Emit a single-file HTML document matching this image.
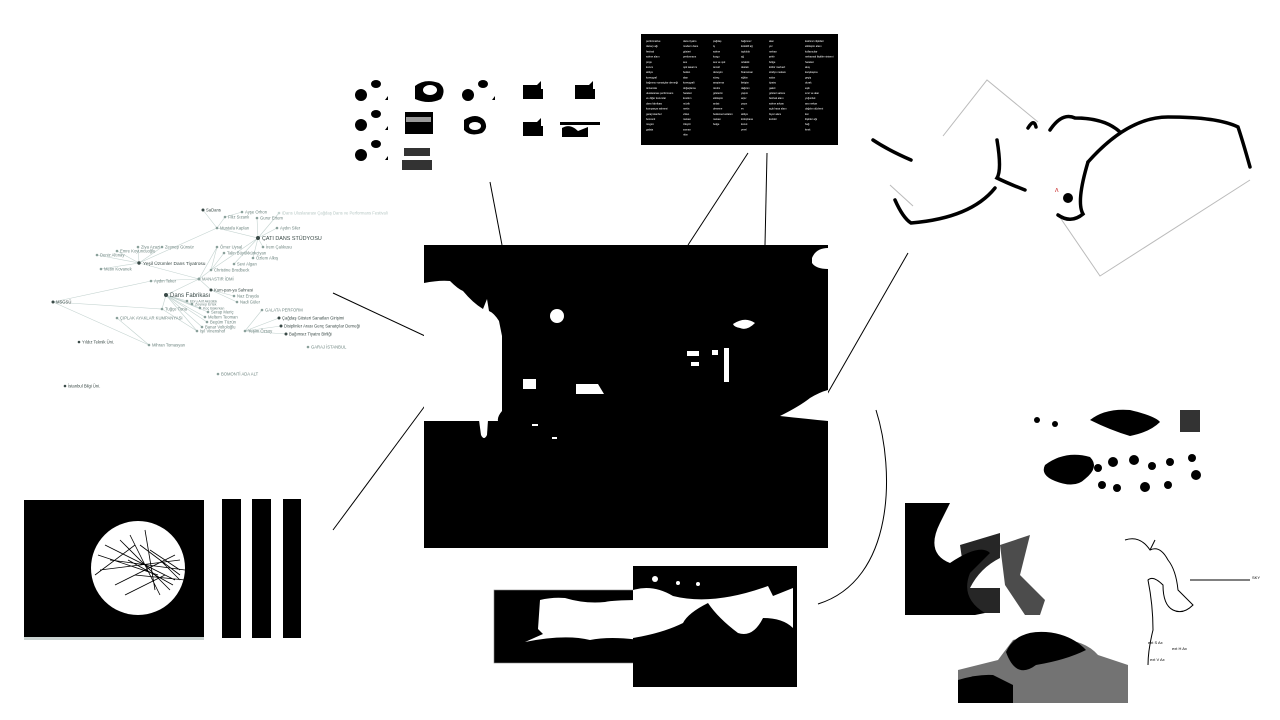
<!DOCTYPE html>
<html><head><meta charset="utf-8"><style>
html,body{margin:0;padding:0;background:#fff;width:1280px;height:720px;overflow:hidden}
svg{display:block;font-family:"Liberation Sans",sans-serif}
</style></head><body>
<svg width="1280" height="720" viewBox="0 0 1280 720" xmlns="http://www.w3.org/2000/svg">
<rect width="1280" height="720" fill="#fff"/>

<!-- connectors -->
<g stroke="#000" stroke-width="1" fill="none">
<line x1="490" y1="182" x2="502" y2="245"/>
<line x1="748" y1="153" x2="688" y2="245"/>
<line x1="767" y1="153" x2="765" y2="245"/>
<line x1="333" y1="293" x2="455" y2="350"/>
<line x1="433" y1="395" x2="333" y2="530"/>
<line x1="908" y1="253" x2="818" y2="410"/>
<path d="M876 410 C895 470 895 580 818 604"/>
</g>

<!-- network graph -->
<g stroke="#c4d3d0" stroke-width="0.6" fill="none">
<path d="M203 210 L217 228 L258 238 M242 212 L225 217 L217 228 M257 218 L258 238 M279 213 L258 238 M277 228 L258 238 M263 247 L258 238 M253 258 L258 238 M217 228 L139 263 M138 247 L139 263 M162 247 L139 263 M117 251 L139 263 M97 255 L139 263 M101 269 L139 263 M139 263 L199 279 M217 247 L211 270 M224 253 L211 270 M234 264 L258 238 M211 270 L258 238 M211 270 L199 279 M217 247 L199 279 M199 279 L151 281 L53 302 M199 279 L166 295 M199 279 L211 290 M211 290 L234 296 M211 290 L237 302 M53 302 L162 309 L166 295 M166 295 L187 301 M166 295 L192 304 M166 295 L200 308 M166 295 L208 312 M166 295 L205 317 M166 295 L207 322 M166 295 L202 327 M166 295 L197 331 M53 302 L149 345 L117 318 M262 310 L245 331 M279 318 L245 331 M281 326 L245 331 M286 334 L245 331 M162 309 L197 331"/>
</g>
<g font-size="4.2" fill="#6e8580">
<g fill="#3a4a47">
<circle cx="203" cy="210" r="1.5"/><circle cx="258" cy="238" r="2"/><circle cx="139" cy="263" r="1.7"/><circle cx="166" cy="295" r="2"/><circle cx="53" cy="302" r="1.5"/><circle cx="211" cy="290" r="1.5"/><circle cx="279" cy="318" r="1.5"/><circle cx="281" cy="326" r="1.5"/><circle cx="286" cy="334" r="1.5"/><circle cx="79" cy="342" r="1.3"/><circle cx="65" cy="386" r="1.3"/>
</g>
<g fill="#8aa09b">
<circle cx="242" cy="212" r="1.3"/><circle cx="225" cy="217" r="1.3"/><circle cx="257" cy="218" r="1.3"/><circle cx="279" cy="213" r="1.3" fill="#c4d3d0"/><circle cx="217" cy="228" r="1.3"/><circle cx="277" cy="228" r="1.3"/><circle cx="138" cy="247" r="1.3"/><circle cx="162" cy="247" r="1.3"/><circle cx="117" cy="251" r="1.3"/><circle cx="97" cy="255" r="1.3"/><circle cx="101" cy="269" r="1.3"/><circle cx="217" cy="247" r="1.3"/><circle cx="224" cy="253" r="1.3"/><circle cx="263" cy="247" r="1.3"/><circle cx="253" cy="258" r="1.3"/><circle cx="234" cy="264" r="1.3"/><circle cx="211" cy="270" r="1.3"/><circle cx="151" cy="281" r="1.3"/><circle cx="199" cy="279" r="1.5"/><circle cx="234" cy="296" r="1.3"/><circle cx="237" cy="302" r="1.3"/><circle cx="187" cy="301" r="1.3"/><circle cx="192" cy="304" r="1.3"/><circle cx="162" cy="309" r="1.3"/><circle cx="200" cy="308" r="1.3"/><circle cx="208" cy="312" r="1.3"/><circle cx="262" cy="310" r="1.3"/><circle cx="205" cy="317" r="1.3"/><circle cx="117" cy="318" r="1.3"/><circle cx="207" cy="322" r="1.3"/><circle cx="202" cy="327" r="1.3"/><circle cx="197" cy="331" r="1.3"/><circle cx="245" cy="331" r="1.3"/><circle cx="149" cy="345" r="1.3"/><circle cx="308" cy="347" r="1.3"/><circle cx="218" cy="374" r="1.3"/>
</g>
<text x="206" y="211.5" fill="#3a4a47">SaDans</text>
<text x="245" y="213.5">Ayşe Orhon</text>
<text x="228" y="218.5">Filiz Sızanlı</text>
<text x="260" y="219.5">Gurur Ertem</text>
<text x="282" y="214.5" fill="#b9c9c6">iDans Uluslararası Çağdaş Dans ve Performans Festivali</text>
<text x="220" y="229.5">Mustafa Kaplan</text>
<text x="280" y="229.5">Aydın Siler</text>
<text x="262" y="240" font-size="5.4" fill="#3a4a47">ÇATI DANS STÜDYOSU</text>
<text x="141" y="248.5">Ziya Azazi</text>
<text x="165" y="248.5">Zeynep Günsür</text>
<text x="120" y="252.5">Emre Koyuncuoğlu</text>
<text x="100" y="256.5">Deniz Altınay</text>
<text x="143" y="265" font-size="4.8" fill="#3a4a47">Yeşil Üzümler Dans Tiyatrosu</text>
<text x="104" y="270.5">Metin Kovanek</text>
<text x="220" y="248.5">Ömer Uysal</text>
<text x="227" y="254.5">Talin Büyükkürkciyan</text>
<text x="266" y="248.5">İrem Çalıkusu</text>
<text x="256" y="259.5">Özlem Alkış</text>
<text x="237" y="265.5">Sevi Algan</text>
<text x="214" y="271.5">Christine Brodbeck</text>
<text x="154" y="282.5">Aydın Teker</text>
<text x="202" y="280.5">MANASTIR İDMİ</text>
<text x="214" y="291.5" fill="#3a4a47">Kum-pan-ya Sahnesi</text>
<text x="170" y="297" font-size="6" fill="#3a4a47">Dans Fabrikası</text>
<text x="56" y="303.5" fill="#3a4a47">MSGSÜ</text>
<text x="237" y="297.5">Naz Erayda</text>
<text x="240" y="303.5">Nadi Güler</text>
<text x="190" y="302.5" font-size="3.6">Ebru Arif Aksülük</text>
<text x="195" y="305.5" font-size="3.6">Zeynep Ertek</text>
<text x="165" y="310.5">Tuğçe Tuna</text>
<text x="203" y="309.5" font-size="3.6">Koç Bakırkan</text>
<text x="211" y="313.5">Serap Meriç</text>
<text x="265" y="311.5">GALATA PERFORM</text>
<text x="282" y="319.5" fill="#3a4a47">Çağdaş Gösteri Sanatları Girişimi</text>
<text x="208" y="318.5">Meltem Teoman</text>
<text x="120" y="319.5">ÇIPLAK AYAKLAR KUMPANYASI</text>
<text x="210" y="323.5">Begüm Tüzün</text>
<text x="284" y="327.5" fill="#3a4a47">Disiplinler Arası Genç Sanatçılar Derneği</text>
<text x="205" y="328.5">Banar Voltoloğlu</text>
<text x="200" y="332.5">Işıl Vinenshof</text>
<text x="248" y="332.5">Yeşim Özsoy</text>
<text x="289" y="335.5" fill="#3a4a47">Bağımsız Tiyatro Birliği</text>
<text x="82" y="343.5" fill="#3a4a47">Yıldız Teknik Üni.</text>
<text x="152" y="346.5">Mihran Tomasyan</text>
<text x="311" y="348.5">GARAJ İSTANBUL</text>
<text x="221" y="375.5">BOMONTİ ADA ALT</text>
<text x="68" y="387.5" fill="#3a4a47">İstanbul Bilgi Üni.</text>
</g>

<!-- top blobs -->
<g fill="#000">
<g id="b1"><ellipse cx="361" cy="95" rx="6" ry="6"/><ellipse cx="376" cy="84" rx="5" ry="4"/><path d="M385 100 l3 -4 v4z"/></g>
<use href="#b1" y="30"/><use href="#b1" y="60"/><use href="#b1" x="107"/>
<path d="M415 86 q10 -8 24 -3 q8 6 2 16 q-12 6 -26 0 z"/>
<ellipse cx="430" cy="90" rx="7" ry="5" fill="#fff"/>
<path d="M405 112 h28 v22 h-28 z"/>
<rect x="406" y="117" width="25" height="5" fill="#fff" opacity=".6"/>
<path d="M464 120 q12 -8 20 0 q5 8 -2 13 q-12 4 -18 -3 z"/>
<ellipse cx="475" cy="126" rx="6" ry="4" fill="#fff"/>
<path d="M523 85 h14 l4 -4 v8 h2 v10 h-20z"/><path d="M523 122 h14 l4 -4 v8 h2 v10 h-20z"/>
<path d="M575 85 h14 l4 -4 v8 h2 v10 h-20z"/>
<path d="M560 122 h40 v3 h-40z M562 128 q8 -5 16 3 l10 -4 v10 h-26z"/>
<path d="M404 148 h26 v8 h-26z M402 160 h30 v10 h-30z" opacity=".8"/>
</g>

<!-- text block -->
<rect x="641" y="34" width="197" height="111" fill="#000"/>
<g fill="#fff" font-size="2.6">
<text x="646" y="42"><tspan x="646" dy="0">performative</tspan><tspan x="646" dy="5.2">dansçı ağı</tspan><tspan x="646" dy="5.2">festival</tspan><tspan x="646" dy="5.2">sahne alanı</tspan><tspan x="646" dy="5.2">proje</tspan><tspan x="646" dy="5.2">kurum</tspan><tspan x="646" dy="5.2">atölye</tspan><tspan x="646" dy="5.2">koreograf</tspan><tspan x="646" dy="5.2">bağımsız sanatçılar derneği</tspan><tspan x="646" dy="5.2">üniversite</tspan><tspan x="646" dy="5.2">uluslararası performans</tspan><tspan x="646" dy="5.2">ve diğer kurumlar</tspan><tspan x="646" dy="5.2">dans fabrikası</tspan><tspan x="646" dy="5.2">kumpanya sahnesi</tspan><tspan x="646" dy="5.2">garaj istanbul</tspan><tspan x="646" dy="5.2">bomonti</tspan><tspan x="646" dy="5.2">msgsü</tspan><tspan x="646" dy="5.2">galata</tspan></text>
<text x="683" y="42"><tspan x="683" dy="0">dans tiyatro</tspan><tspan x="683" dy="5.2">modern dans</tspan><tspan x="683" dy="5.2">gösteri</tspan><tspan x="683" dy="5.2">performans</tspan><tspan x="683" dy="5.2">ses</tspan><tspan x="683" dy="5.2">ışık tasarımı</tspan><tspan x="683" dy="5.2">beden</tspan><tspan x="683" dy="5.2">alan</tspan><tspan x="683" dy="5.2">koreografi</tspan><tspan x="683" dy="5.2">doğaçlama</tspan><tspan x="683" dy="5.2">hareket</tspan><tspan x="683" dy="5.2">kostüm</tspan><tspan x="683" dy="5.2">müzik</tspan><tspan x="683" dy="5.2">metin</tspan><tspan x="683" dy="5.2">video</tspan><tspan x="683" dy="5.2">mekan</tspan><tspan x="683" dy="5.2">izleyici</tspan><tspan x="683" dy="5.2">zaman</tspan><tspan x="683" dy="5.2">ritim</tspan></text>
<text x="713" y="42"><tspan x="713" dy="0">çağdaş</tspan><tspan x="713" dy="5.2">iş</tspan><tspan x="713" dy="5.2">sahne</tspan><tspan x="713" dy="5.2">kurgu</tspan><tspan x="713" dy="5.2">ses ve ışık</tspan><tspan x="713" dy="5.2">temsil</tspan><tspan x="713" dy="5.2">deneyim</tspan><tspan x="713" dy="5.2">süreç</tspan><tspan x="713" dy="5.2">araştırma</tspan><tspan x="713" dy="5.2">üretim</tspan><tspan x="713" dy="5.2">gösterim</tspan><tspan x="713" dy="5.2">etkileşim</tspan><tspan x="713" dy="5.2">anlatı</tspan><tspan x="713" dy="5.2">deneme</tspan><tspan x="713" dy="5.2">bedensel anlatım</tspan><tspan x="713" dy="5.2">mekan</tspan><tspan x="713" dy="5.2">belge</tspan></text>
<text x="741" y="42"><tspan x="741" dy="0">bağımsız</tspan><tspan x="741" dy="5.2">kolektif ağ</tspan><tspan x="741" dy="5.2">topluluk</tspan><tspan x="741" dy="5.2">ağ</tspan><tspan x="741" dy="5.2">ortaklık</tspan><tspan x="741" dy="5.2">destek</tspan><tspan x="741" dy="5.2">finansman</tspan><tspan x="741" dy="5.2">eğitim</tspan><tspan x="741" dy="5.2">iletişim</tspan><tspan x="741" dy="5.2">dağıtım</tspan><tspan x="741" dy="5.2">yapım</tspan><tspan x="741" dy="5.2">arşiv</tspan><tspan x="741" dy="5.2">yayın</tspan><tspan x="741" dy="5.2">ev</tspan><tspan x="741" dy="5.2">atölye</tspan><tspan x="741" dy="5.2">kütüphane</tspan><tspan x="741" dy="5.2">konut</tspan><tspan x="741" dy="5.2">yerel</tspan></text>
<text x="769" y="42"><tspan x="769" dy="0">alan</tspan><tspan x="769" dy="5.2">yer</tspan><tspan x="769" dy="5.2">mekan</tspan><tspan x="769" dy="5.2">şehir</tspan><tspan x="769" dy="5.2">bölge</tspan><tspan x="769" dy="5.2">kültür merkezi</tspan><tspan x="769" dy="5.2">stüdyo mekanı</tspan><tspan x="769" dy="5.2">salon</tspan><tspan x="769" dy="5.2">tiyatro</tspan><tspan x="769" dy="5.2">galeri</tspan><tspan x="769" dy="5.2">gösteri salonu</tspan><tspan x="769" dy="5.2">festival alanı</tspan><tspan x="769" dy="5.2">sahne arkası</tspan><tspan x="769" dy="5.2">açık hava alanı</tspan><tspan x="769" dy="5.2">foyer alanı</tspan><tspan x="769" dy="5.2">koridor</tspan></text>
<text x="805" y="42"><tspan x="805" dy="0">katılımcı ilişkileri</tspan><tspan x="805" dy="5.2">etkileşim alanı</tspan><tspan x="805" dy="5.2">kullanıcılar</tspan><tspan x="805" dy="5.2">mekansal ilişkiler sistemi</tspan><tspan x="805" dy="5.2">hareket</tspan><tspan x="805" dy="5.2">akış</tspan><tspan x="805" dy="5.2">karşılaşma</tspan><tspan x="805" dy="5.2">geçiş</tspan><tspan x="805" dy="5.2">durak</tspan><tspan x="805" dy="5.2">eşik</tspan><tspan x="805" dy="5.2">sınır ve alan</tspan><tspan x="805" dy="5.2">yoğunluk</tspan><tspan x="805" dy="5.2">ara mekan</tspan><tspan x="805" dy="5.2">dağılım düzlemi</tspan><tspan x="805" dy="5.2">kat</tspan><tspan x="805" dy="5.2">ilişkiler ağı</tspan><tspan x="805" dy="5.2">bağ</tspan><tspan x="805" dy="5.2">kesit</tspan></text>
</g>

<!-- top-right drawing -->
<g fill="none" stroke="#bbb" stroke-width="1">
<path d="M943 136 L987 80 L1038 122"/>
<path d="M1057 213 L1100 276 L1250 180"/>
<path d="M913 206 L890 185"/>
</g>
<g fill="none" stroke="#000" stroke-width="3.5" stroke-linecap="round">
<path d="M873 140 q15 10 38 20"/>
<path d="M997 140 q5 30 0 38 q10 5 28 12"/>
<path d="M895 200 q8 18 16 23 q60 -5 84 -35"/>
<path d="M1050 130 q12 -18 25 -12 q30 0 45 14"/>
<path d="M1028 128 q6 -10 8 -1"/>
<path d="M1088 162 q40 -45 80 -45 q50 0 70 10 q5 15 12 40"/>
<path d="M1088 162 q-12 40 -5 52 q-12 10 -25 1"/>
</g>
<circle cx="1068" cy="198" r="5" fill="#000"/>
<text x="1055" y="192" font-size="7" fill="#c33">ʌ</text>
<rect x="914" y="138" width="80" height="45" fill="#fff"/>

<!-- central image -->
<rect x="424" y="245" width="404" height="303" fill="#000"/>
<g fill="#fff">
<path d="M424 283 q15 -3 26 -2 q8 8 13 10 q10 12 20 18 l4 -10 l2 12 q5 2 10 10 l3 15 v75 q-5 6 -4 10 h-74 z"/>
<path d="M477 405 h12 l-2 30 q-3 6 -6 0 z"/>
<circle cx="557" cy="316" r="7"/>
<rect x="523" y="379" width="13" height="10"/>
<path d="M576 384 h22 l6 10 h-28z"/>
<path d="M733 324 q12 -8 22 -1 q-8 8 -15 5 q-6 -1 -7 -4z"/>
<path d="M687 351 h12 v5 h-12z M712 350 h6 v5 h-6z M724 348 h5 v34 h-5z M691 362 h8 v4 h-8z"/>
<path d="M812 258 q4 -10 16 -10 v21 q-12 0 -16 -6 z"/>
<path d="M780 416 q20 -10 30 -18 q10 -6 18 -8 v31 q-20 -2 -48 -5z"/>
<rect x="532" y="424" width="6" height="2"/><rect x="552" y="437" width="5" height="2"/>
</g>

<!-- bottom-left -->
<rect x="24" y="500" width="180" height="138" fill="#000"/>
<rect x="24" y="637" width="180" height="3" fill="#c9d2d0"/>
<circle cx="138" cy="568" r="47" fill="#fff"/>
<g stroke="#000" stroke-width="0.8" fill="none">
<path d="M98 555 l60 20 M105 545 l70 35 M110 560 l75 10 M120 540 l50 50 M130 535 l30 60 M100 570 l80 -10 M115 585 l60 -30 M140 545 l40 30 M150 550 l30 20 M125 595 l40 -20 M145 530 l10 60 M95 575 l40 -30 M160 560 l20 20 M135 575 l50 5 M128 560 l45 25"/>
</g>
<rect x="222" y="499" width="19" height="139" fill="#000"/>
<rect x="252" y="499" width="19" height="139" fill="#000"/>
<rect x="283" y="499" width="18" height="139" fill="#000"/>

<!-- bottom center -->
<rect x="494" y="590" width="146" height="73" fill="#000" stroke="#888" stroke-width="0.6"/>
<path d="M540 600 q12 -3 25 -2 q20 6 40 4 q10 -2 35 -2 v40 q-30 -4 -50 0 q-25 -6 -65 2 l18 -8 l-5 -5 z" fill="#fff"/>
<rect x="633" y="566" width="164" height="121" fill="#000"/>
<path d="M633 590 q20 -6 40 6 q40 10 95 -10 l5 10 l20 -8 v40 q-10 -10 -30 -10 q-10 20 -25 15 q-20 -15 -30 -30 q-20 10 -25 20 q-20 10 -50 15 z" fill="#fff"/>
<circle cx="655" cy="579" r="3" fill="#fff"/><circle cx="678" cy="583" r="2" fill="#fff"/><circle cx="698" cy="584" r="2" fill="#fff"/>

<!-- bottom right -->
<g fill="#000">
<path d="M1090 420 q15 -12 40 -10 q25 6 30 12 q-10 10 -30 14 q-20 -6 -40 -16z"/>
<path d="M1045 465 q20 -15 45 -8 q10 10 -5 22 q-10 10 -30 2 q-15 -6 -10 -16z"/>
<circle cx="1098" cy="468" r="4"/><circle cx="1113" cy="462" r="5"/><circle cx="1134" cy="460" r="5"/><circle cx="1152" cy="466" r="4"/><circle cx="1170" cy="462" r="4"/><circle cx="1102" cy="485" r="4"/><circle cx="1117" cy="488" r="4"/><circle cx="1145" cy="487" r="5"/><circle cx="1168" cy="485" r="4"/><circle cx="1196" cy="475" r="5"/><circle cx="1192" cy="458" r="4"/><circle cx="1037" cy="420" r="3"/><circle cx="1055" cy="424" r="3"/>
<rect x="1180" y="410" width="20" height="22" opacity=".8"/>
<path d="M905 503 h45 l-10 20 q-15 30 10 40 q30 -20 40 -10 l-20 20 q-10 25 15 40 l-10 2 h-70z"/>
<path d="M960 545 l40 -12 v25 q-20 10 -30 30 h30 v25 h-30 z" opacity=".85"/>
<path d="M1000 545 l30 -10 l-10 40 q10 10 25 25 l-5 15 h-15 l-20 -30z" opacity=".7"/>
<path d="M958 670 q20 -5 40 -10 l15 -20 q20 -5 40 0 q30 -2 45 15 l30 10 v38 h-170z" opacity=".55"/>
<path d="M1006 652 q10 -22 40 -20 q25 2 40 18 q-20 10 -50 15 q-20 15 -30 -13z"/>
<path d="M958 680 q20 -6 35 -5 l20 10 v18 h-55z"/>
</g>
<g stroke="#000" stroke-width="1" fill="none">
<path d="M1125 540 q15 -5 25 10 q10 -5 18 10 q8 10 10 30 q10 10 15 15 q-10 10 -20 5 q-10 -5 -10 -25 q-10 -10 -15 -5 q5 25 5 50 q-5 20 -5 35"/>
<path d="M1190 580 h20 h20 h20 M1150 550 l5 -10"/>
</g>
<g font-size="4" fill="#000"><text x="1252" y="579">SKY</text><text x="1148" y="644">ext S Ax</text><text x="1172" y="650">ext H Ax</text><text x="1150" y="661">ext V Ax</text></g>
</svg>
</body></html>
